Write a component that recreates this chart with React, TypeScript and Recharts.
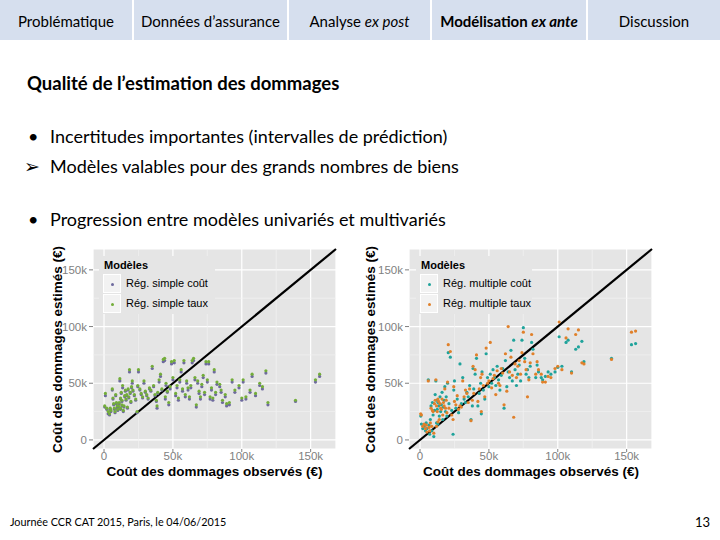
import React from "react";
import {
  ScatterChart,
  Scatter,
  XAxis,
  YAxis,
  CartesianGrid,
  ReferenceLine,
} from "recharts";

// Observed damage cost (k€), shared by all four model series
const observed = [
  0.5, 1, 2, 3, 4, 4.5, 5, 6, 6.5, 7, 7.5, 8, 8.5, 9, 9.5, 10, 10.5, 11, 11.5, 12,
  12, 12.5, 13, 13, 13.5, 14, 14.5, 15, 15.5, 16, 16.5, 17, 17.5, 18, 18.5, 19, 19.5, 20, 20.5, 21,
  22, 23, 24, 24.5, 25, 26, 27, 28, 29, 30, 31, 32, 33, 34, 35, 36, 37, 38, 38.5, 39,
  40, 41, 42, 43, 44, 44.5, 45, 46, 47, 48, 49, 50, 51, 52, 53, 54, 55, 56, 57, 58,
  59, 60, 61, 62, 63, 64, 65, 66, 67, 68, 69, 70, 71, 72, 73, 74, 75, 76, 77, 78,
  79, 80, 81, 82, 84, 85, 86, 88, 89, 91, 93, 95, 98, 100, 101, 103, 106, 107.5, 110, 113,
  115, 117.5, 119, 139, 153.5, 156.5,
];

// Estimated cost (k€) – simple regression on cost
const simpleCout = [
  29, 39, 27, 23, 22, 27, 25, 44, 36, 31, 27, 24, 39, 32, 28, 26, 29, 32, 52, 36,
  27, 41, 30, 34, 46, 25, 29, 38, 43, 35, 39, 28, 44, 37, 60, 41, 33, 46, 50, 43,
  39, 35, 24, 47, 60, 44, 40, 37, 50, 42, 39, 36, 45, 43, 63, 47, 39, 34, 28, 41,
  51, 56, 44, 69, 70, 36, 48, 42, 31, 45, 67, 53, 68, 39, 46, 35, 51, 60, 43, 68,
  38, 50, 44, 36, 46, 68, 70, 53, 29, 50, 41, 36, 47, 55, 40, 67, 51, 67, 36, 44,
  35, 60, 40, 49, 47, 42, 33, 38, 30, 31, 51, 42, 46, 35, 51, 36, 42, 56, 39, 48,
  45, 59, 31, 34, 51, 56,
];

// Estimated cost (k€) – simple regression on damage rate
const simpleTaux = [
  30, 41, 28, 25, 23, 28, 26, 45, 37, 32, 28, 25, 40, 33, 30, 27, 30, 33, 54, 37,
  28, 42, 31, 35, 48, 26, 30, 39, 44, 36, 40, 29, 45, 38, 62, 42, 34, 47, 52, 44,
  40, 36, 25, 48, 62, 45, 41, 38, 52, 43, 40, 37, 46, 44, 65, 48, 40, 35, 30, 42,
  53, 58, 45, 71, 72, 38, 50, 43, 33, 47, 69, 55, 70, 41, 48, 37, 53, 62, 45, 70,
  40, 52, 46, 38, 48, 70, 72, 55, 31, 52, 43, 38, 49, 57, 42, 69, 53, 69, 38, 46,
  37, 62, 42, 51, 49, 44, 35, 40, 32, 33, 53, 44, 48, 37, 53, 38, 44, 58, 41, 50,
  47, 61, 33, 35, 53, 58,
];

// Estimated cost (k€) – multiple regression on cost
const multipleCout = [
  21, 14, 10, 12, 8, 15, 10, 53, 13, 5, 18, 30, 8, 33, 22, 3, 26, 40, 52, 15,
  35, 27, 33, 14, 30, 21, 38, 25, 31, 42, 18, 29, 35, 47, 25, 38, 21, 50, 77, 32,
  73, 26, 5, 44, 52, 28, 36, 24, 67, 32, 55, 36, 33, 42, 38, 48, 18, 30, 63, 45,
  58, 72, 30, 41, 50, 23, 60, 44, 36, 76, 55, 47, 58, 50, 62, 55, 48, 65, 53, 44,
  57, 63, 28, 70, 47, 60, 55, 79, 52, 88, 62, 48, 58, 66, 52, 88, 99, 72, 58, 62,
  55, 65, 86, 80, 55, 66, 60, 55, 53, 56, 60, 58, 60, 64, 91, 65, 86, 88, 60, 80,
  82, 87, 69, 72, 84, 85,
];

// Estimated cost (k€) – multiple regression on damage rate
const multipleTaux = [
  23, 22, 12, 14, 10, 13, 7, 52, 11, 8, 15, 28, 12, 26, 25, 6, 32, 35, 53, 12,
  30, 25, 36, 16, 34, 18, 32, 28, 27, 36, 22, 33, 30, 45, 28, 35, 24, 51, 84, 28,
  78, 22, 18, 47, 34, 31, 39, 27, 30, 29, 52, 38, 44, 41, 33, 45, 17, 35, 65, 41,
  62, 75, 34, 45, 55, 25, 58, 48, 38, 81, 50, 52, 86, 46, 54, 57, 40, 61, 50, 48,
  63, 59, 31, 76, 43, 100, 60, 73, 57, 20, 67, 55, 65, 70, 58, 77, 95, 69, 62, 38,
  53, 68, 93, 76, 58, 69, 62, 58, 51, 51, 56, 55, 63, 65, 104, 62, 90, 98, 59, 93,
  97, 68, 67, 71, 95, 96,
];

const majorTicks = [0, 50, 100, 150];
const minorTicks = [25, 75, 125];
const axisDomain = [-8, 168.4];

const toPoints = (ys: number[]) => observed.map((x, i) => ({ x, y: ys[i] }));

const chartFont = "'Liberation Sans', Arial, sans-serif";
const slideFont = "Lato, 'Open Sans', sans-serif";

const fmt = (v: number) => (v === 0 ? "0" : `${v}k`);

const dot = (color: string) => (props: any) => (
  <circle cx={props.cx} cy={props.cy} r={1.6} fill={color} />
);

type Series = { name: string; values: number[]; color: string };

function Panel({
  left,
  top,
  yAxisWidth,
  marginRight,
  series,
}: {
  left: number;
  top: number;
  yAxisWidth: number;
  marginRight: number;
  series: Series[];
}) {
  const tickStyle = { fill: "#7F7F7F", fontSize: 11.5, fontFamily: chartFont };
  return (
    <div style={{ position: "absolute", left, top, width: 300, height: 240 }}>
      <ScatterChart
        width={300}
        height={240}
        margin={{ top: 4, right: marginRight, bottom: 0, left: 0 }}
      >
        <CartesianGrid fill="#E5E5E5" stroke="#FFFFFF" strokeWidth={1.2} />
        <XAxis
          type="number"
          dataKey="x"
          domain={axisDomain}
          ticks={majorTicks}
          tickFormatter={fmt}
          allowDataOverflow
          axisLine={false}
          tickLine={{ stroke: "#7F7F7F" }}
          tickSize={3}
          tickMargin={0}
          tick={tickStyle}
          height={36}
        />
        <YAxis
          type="number"
          dataKey="y"
          domain={axisDomain}
          ticks={majorTicks}
          tickFormatter={fmt}
          allowDataOverflow
          axisLine={false}
          tickLine={{ stroke: "#7F7F7F" }}
          tickSize={4}
          tickMargin={2}
          tick={tickStyle}
          width={yAxisWidth}
        />
        {minorTicks.map((v) => (
          <ReferenceLine key={`mx${v}`} x={v} stroke="#F2F2F2" strokeWidth={0.7} />
        ))}
        {minorTicks.map((v) => (
          <ReferenceLine key={`my${v}`} y={v} stroke="#F2F2F2" strokeWidth={0.7} />
        ))}
        {series.map((s) => (
          <Scatter
            key={s.name}
            name={s.name}
            data={toPoints(s.values)}
            fill={s.color}
            shape={dot(s.color)}
            isAnimationActive={false}
          />
        ))}
        <ReferenceLine
          segment={[
            { x: axisDomain[0], y: axisDomain[0] },
            { x: axisDomain[1], y: axisDomain[1] },
          ]}
          stroke="#000000"
          strokeWidth={2.2}
        />
      </ScatterChart>
    </div>
  );
}

function LegendBox({ left, top, series }: { left: number; top: number; series: Series[] }) {
  return (
    <div
      style={{
        position: "absolute",
        left,
        top,
        width: 116,
        height: 58,
        background: "#E5E5E5",
        fontFamily: chartFont,
        color: "#000",
      }}
    >
      <div style={{ position: "absolute", left: 5, top: 3, fontSize: 11, fontWeight: "bold", lineHeight: "13px" }}>
        Modèles
      </div>
      {series.map((s, i) => (
        <div key={s.name}>
          <div
            style={{
              position: "absolute",
              left: 4,
              top: 18 + i * 20,
              width: 18,
              height: 19,
              background: "#F2F2F2",
              border: "1px solid #FFFFFF",
              boxSizing: "border-box",
            }}
          >
            <div
              style={{
                position: "absolute",
                left: 7,
                top: 7.5,
                width: 3.2,
                height: 3.2,
                borderRadius: "50%",
                background: s.color,
              }}
            />
          </div>
          <div
            style={{
              position: "absolute",
              left: 27,
              top: 20 + i * 20,
              fontSize: 11,
              lineHeight: "15px",
              whiteSpace: "nowrap",
            }}
          >
            {s.name}
          </div>
        </div>
      ))}
    </div>
  );
}

function AxisTitles({ xCenter, yCenter, yTitleX }: { xCenter: number; yCenter: number; yTitleX: number }) {
  const common: React.CSSProperties = {
    position: "absolute",
    fontFamily: chartFont,
    fontWeight: "bold",
    fontSize: 13.5,
    lineHeight: "15px",
    whiteSpace: "nowrap",
    color: "#000",
    width: 260,
    textAlign: "center",
  };
  return (
    <>
      <div style={{ ...common, left: xCenter - 130, top: 463.5 }}>Coût des dommages observés (€)</div>
      <div
        style={{
          ...common,
          left: yTitleX - 130,
          top: yCenter - 7.5,
          transform: "rotate(-90deg)",
          transformOrigin: "50% 50%",
        }}
      >
        Coût des dommages estimés (€)
      </div>
    </>
  );
}

const tabs = [
  { key: "p", content: <>Problématique</>, left: 0, width: 132 },
  { key: "d", content: <>Données d’assurance</>, left: 134, width: 153 },
  { key: "a", content: <>Analyse <i>ex post</i></>, left: 289, width: 141 },
  { key: "m", content: <b>Modélisation <i>ex ante</i></b>, left: 432, width: 154 },
  { key: "x", content: <>Discussion</>, left: 588, width: 132 },
];

const leftSeries: Series[] = [
  { name: "Rég. simple coût", values: simpleCout, color: "#6E6A9E" },
  { name: "Rég. simple taux", values: simpleTaux, color: "#73AD3A" },
];
const rightSeries: Series[] = [
  { name: "Rég. multiple coût", values: multipleCout, color: "#1FA39B" },
  { name: "Rég. multiple taux", values: multipleTaux, color: "#E0802A" },
];

export default function App() {
  const text: React.CSSProperties = {
    position: "absolute",
    fontFamily: slideFont,
    whiteSpace: "nowrap",
    color: "#000",
  };
  return (
    <div
      style={{
        position: "fixed",
        left: 0,
        top: 0,
        width: 720,
        height: 540,
        background: "#FFFFFF",
        overflow: "hidden",
      }}
    >
      {tabs.map((t) => (
        <div
          key={t.key}
          style={{
            position: "absolute",
            left: t.left,
            top: 0,
            width: t.width,
            height: 40,
            background: "#D6DFEE",
            fontFamily: slideFont,
            fontSize: 15,
            lineHeight: "42px",
            textAlign: "center",
            color: "#000",
            whiteSpace: "nowrap",
          }}
        >
          {t.content}
        </div>
      ))}

      <div style={{ ...text, left: 27, top: 71, fontSize: 18.5, fontWeight: "bold", lineHeight: "24px" }}>
        Qualité de l’estimation des dommages
      </div>

      <div style={{ ...text, left: 28, top: 124, fontSize: 18, lineHeight: "24px" }}>•</div>
      <div style={{ ...text, left: 50, top: 124, fontSize: 18, lineHeight: "24px" }}>
        Incertitudes importantes (intervalles de prédiction)
      </div>
      <div style={{ ...text, left: 24, top: 154, fontSize: 19, lineHeight: "24px", fontFamily: "'DejaVu Sans', sans-serif" }}>➢</div>
      <div style={{ ...text, left: 50, top: 154, fontSize: 18, lineHeight: "24px" }}>
        Modèles valables pour des grands nombres de biens
      </div>
      <div style={{ ...text, left: 28, top: 207, fontSize: 18, lineHeight: "24px" }}>•</div>
      <div style={{ ...text, left: 50, top: 207, fontSize: 18, lineHeight: "24px" }}>
        Progression entre modèles univariés et multivariés
      </div>

      <Panel left={40} top={245} yAxisWidth={53} marginRight={4} series={leftSeries} />
      <LegendBox left={99} top={256} series={leftSeries} />
      <AxisTitles xCenter={214.5} yCenter={349} yTitleX={57} />

      <Panel left={360} top={245} yAxisWidth={49} marginRight={8} series={rightSeries} />
      <LegendBox left={416} top={256} series={rightSeries} />
      <AxisTitles xCenter={531} yCenter={349} yTitleX={370} />

      <div style={{ ...text, left: 10, top: 514, fontSize: 10.8, lineHeight: "16px" }}>
        Journée CCR CAT 2015, Paris, le 04/06/2015
      </div>
      <div style={{ ...text, left: 695, top: 513, fontSize: 13, lineHeight: "18px" }}>13</div>
    </div>
  );
}
